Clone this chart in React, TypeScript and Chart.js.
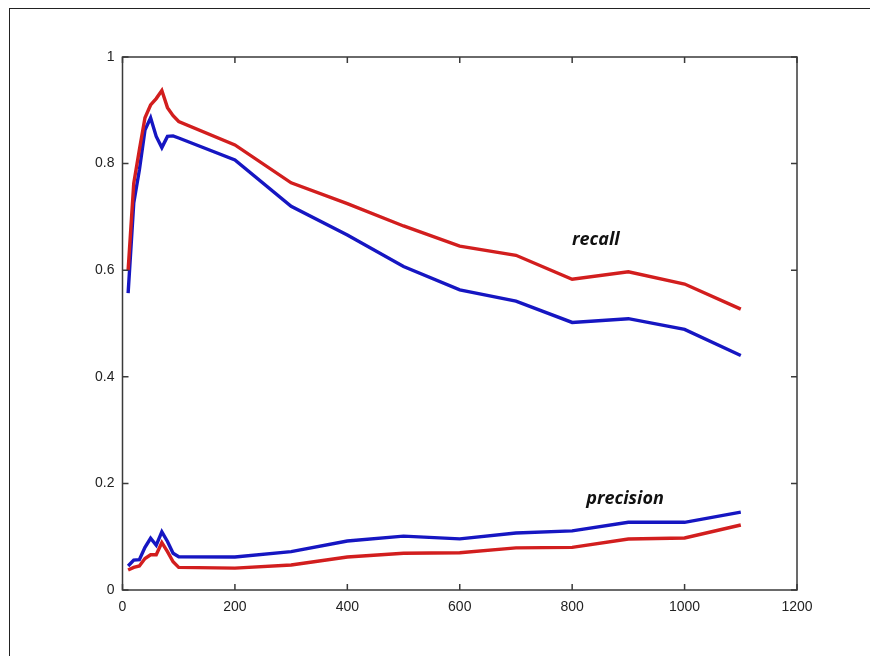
import React, { useEffect, useRef } from "react";
import { Chart, registerables } from "chart.js";

Chart.register(...registerables);

// Sample sizes along the horizontal axis
const xValues = [10, 20, 30, 40, 50, 60, 70, 80, 90, 100, 200, 300, 400, 500, 600, 700, 800, 900, 1000, 1100];

// Recall curves
const recallRed = [0.6, 0.763, 0.826, 0.886, 0.91, 0.922, 0.937, 0.905, 0.89, 0.879, 0.835, 0.764, 0.725, 0.683, 0.645, 0.628, 0.583, 0.597, 0.574, 0.527];
const recallBlue = [0.557, 0.726, 0.788, 0.863, 0.886, 0.851, 0.83, 0.851, 0.852, 0.848, 0.807, 0.72, 0.666, 0.607, 0.563, 0.542, 0.502, 0.509, 0.489, 0.44];

// Precision curves
const precisionRed = [0.0375, 0.0425, 0.045, 0.059, 0.066, 0.066, 0.089, 0.072, 0.053, 0.0425, 0.041, 0.047, 0.062, 0.069, 0.07, 0.079, 0.08, 0.0957, 0.0976, 0.122];
const precisionBlue = [0.045, 0.056, 0.057, 0.08, 0.097, 0.084, 0.109, 0.091, 0.069, 0.0625, 0.062, 0.072, 0.092, 0.101, 0.096, 0.107, 0.111, 0.127, 0.127, 0.146];

const xTicks = [0, 200, 400, 600, 800, 1000, 1200];
const yTicks = [0, 0.2, 0.4, 0.6, 0.8, 1];

const curveLabels = [
  { text: "recall", x: 842, y: 0.657 },
  { text: "precision", x: 894, y: 0.171 },
];

const RED = "#d21e1e";
const BLUE = "#1616c2";
const AXIS = "#3a3a3a";

const toPoints = (ys: number[]) => xValues.map((x, i) => ({ x, y: ys[i] }));

// Draws the boxed frame with inward ticks on all four sides, plus curve captions
const boxPlugin = {
  id: "boxPlugin",
  afterDatasetsDraw(chart: any) {
    const { ctx, chartArea, scales } = chart;
    const { left, right, top, bottom } = chartArea;
    const xs = scales.x;
    const ys = scales.y;
    ctx.save();
    ctx.strokeStyle = AXIS;
    ctx.lineWidth = 1.5;
    ctx.strokeRect(left, top, right - left, bottom - top);
    const len = 6;
    ctx.beginPath();
    for (const t of xTicks) {
      const px = xs.getPixelForValue(t);
      ctx.moveTo(px, bottom);
      ctx.lineTo(px, bottom - len);
      ctx.moveTo(px, top);
      ctx.lineTo(px, top + len);
    }
    for (const t of yTicks) {
      const py = ys.getPixelForValue(t);
      ctx.moveTo(left, py);
      ctx.lineTo(left + len, py);
      ctx.moveTo(right, py);
      ctx.lineTo(right - len, py);
    }
    ctx.stroke();

    ctx.fillStyle = "#111";
    ctx.font = "italic bold 18px 'Open Sans'";
    ctx.textAlign = "center";
    ctx.textBaseline = "middle";
    for (const l of curveLabels) {
      ctx.fillText(l.text, xs.getPixelForValue(l.x), ys.getPixelForValue(l.y));
    }
    ctx.restore();
  },
};

export default function App() {
  const canvasRef = useRef<HTMLCanvasElement>(null);

  useEffect(() => {
    if (!canvasRef.current) return;
    const line = (data: number[], color: string) => ({
      data: toPoints(data),
      borderColor: color,
      backgroundColor: color,
      borderWidth: 3.4,
      pointRadius: 0,
      tension: 0,
      fill: false,
    });
    const chart = new Chart(canvasRef.current, {
      type: "line",
      data: {
        datasets: [
          line(recallRed, RED),
          line(recallBlue, BLUE),
          line(precisionRed, RED),
          line(precisionBlue, BLUE),
        ],
      },
      options: {
        animation: false,
        responsive: false,
        layout: { padding: { left: 0, top: 57, right: 73, bottom: 0 } },
        plugins: { legend: { display: false }, tooltip: { enabled: false } },
        scales: {
          x: {
            type: "linear",
            min: 0,
            max: 1200,
            afterFit: (s: any) => {
              s.height = 66;
            },
            afterBuildTicks: (s: any) => {
              s.ticks = xTicks.map((v) => ({ value: v }));
            },
            grid: { display: false, drawTicks: false },
            border: { display: false },
            ticks: {
              padding: 9,
              color: "#222",
              font: { family: "'Liberation Sans'", size: 14 },
              maxRotation: 0,
              autoSkip: false,
              callback: (v: any) => String(v),
            },
          },
          y: {
            type: "linear",
            min: 0,
            max: 1,
            afterFit: (s: any) => {
              s.width = 122.5;
            },
            afterBuildTicks: (s: any) => {
              s.ticks = yTicks.map((v) => ({ value: v }));
            },
            grid: { display: false, drawTicks: false },
            border: { display: false },
            ticks: {
              padding: 8,
              color: "#222",
              font: { family: "'Liberation Sans'", size: 14 },
              autoSkip: false,
              callback: (v: any) => String(Math.round(v * 10) / 10),
            },
          },
        },
      },
      plugins: [boxPlugin],
    });
    return () => chart.destroy();
  }, []);

  return (
    <div
      style={{
        position: "absolute",
        left: 0,
        top: 0,
        width: 870,
        height: 656,
        overflow: "hidden",
        background: "#fff",
      }}
    >
      <div
        style={{
          position: "absolute",
          left: 9,
          top: 8,
          width: 900,
          height: 700,
          borderLeft: "1.5px solid #222",
          borderTop: "1.5px solid #222",
        }}
      />
      <canvas ref={canvasRef} width={870} height={656} style={{ position: "absolute", left: 0, top: 0 }} />
    </div>
  );
}
